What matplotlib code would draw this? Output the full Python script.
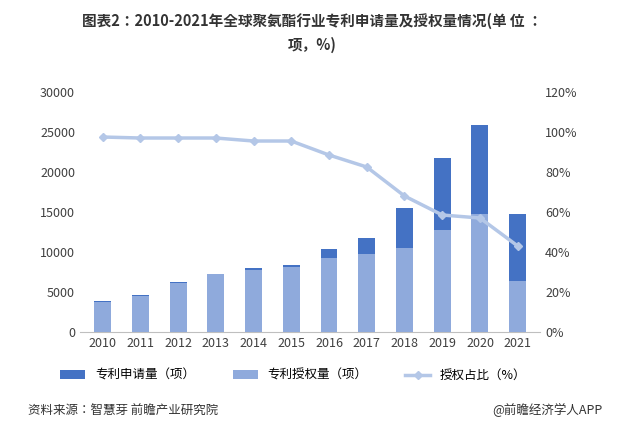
import matplotlib
matplotlib.use("Agg")
import matplotlib.pyplot as plt
from matplotlib import font_manager
from matplotlib.ticker import FuncFormatter

names = {f.name for f in font_manager.fontManager.ttflist}
cjk = [n for n in ["Noto Sans CJK SC", "Noto Sans CJK JP", "Noto Sans CJK TC", "Noto Sans CJK KR", "Noto Sans SC"] if n in names]
plt.rcParams["font.family"] = cjk + ["DejaVu Sans"]

years = ["2010","2011","2012","2013","2014","2015","2016","2017","2018","2019","2020","2021"]
applications = [3900,4600,6300,7300,8000,8400,10400,11800,15500,21800,25900,14800]
grants = [3800,4500,6100,7200,7700,8100,9200,9700,10500,12800,14800,6400]
ratio = [97.5,97,97,97,95.5,95.5,88.5,82.5,68,58.5,57,43]

fig = plt.figure(figsize=(6.24,4.34), dpi=100)
ax = fig.add_axes([0.128, 0.235, 0.738, 0.553])
x = range(len(years))
ax.bar(x, applications, width=0.45, color="#4472C4", label="专利申请量（项）", zorder=2)
ax.bar(x, grants, width=0.45, color="#8FAADC", label="专利授权量（项）", zorder=3)
ax.set_ylim(0, 30000)
ax.set_yticks(range(0, 30001, 5000))
ax.set_xticks(list(x))
ax.set_xticklabels(years)
ax.set_xlim(-0.6, 11.6)
ax2 = ax.twinx()
ax2.plot(list(x), ratio, color="#B4C7E7", lw=2.5, marker="D", ms=4, label="授权占比（%）")
ax2.set_ylim(0, 120)
ax2.set_yticks(range(0, 121, 20))
ax2.yaxis.set_major_formatter(FuncFormatter(lambda v, p: f"{int(v)}%"))
for a in (ax, ax2):
    for s in a.spines.values():
        s.set_visible(False)
    a.tick_params(length=0, labelsize=9, colors="#404040")
ax.spines["bottom"].set_visible(True)
ax.spines["bottom"].set_color("#BFBFBF")

fig.text(0.5, 0.94, "图表2：2010-2021年全球聚氨酯行业专利申请量及授权量情况(单 位 ：", ha="center", fontsize=10.5, fontweight="bold", color="#333333")
fig.text(0.5, 0.885, "项，%)", ha="center", fontsize=10.5, fontweight="bold", color="#333333")

h1, l1 = ax.get_legend_handles_labels()
h2, l2 = ax2.get_legend_handles_labels()
fig.legend(h1 + h2, l1 + l2, loc="center", bbox_to_anchor=(0.47, 0.135), ncol=3, frameon=False, fontsize=9, columnspacing=3)

fig.text(0.045, 0.045, "资料来源：智慧芽 前瞻产业研究院", fontsize=9, color="#333333")
fig.text(0.965, 0.045, "@前瞻经济学人APP", fontsize=9, color="#333333", ha="right")
fig.savefig("out.png", dpi=100)
